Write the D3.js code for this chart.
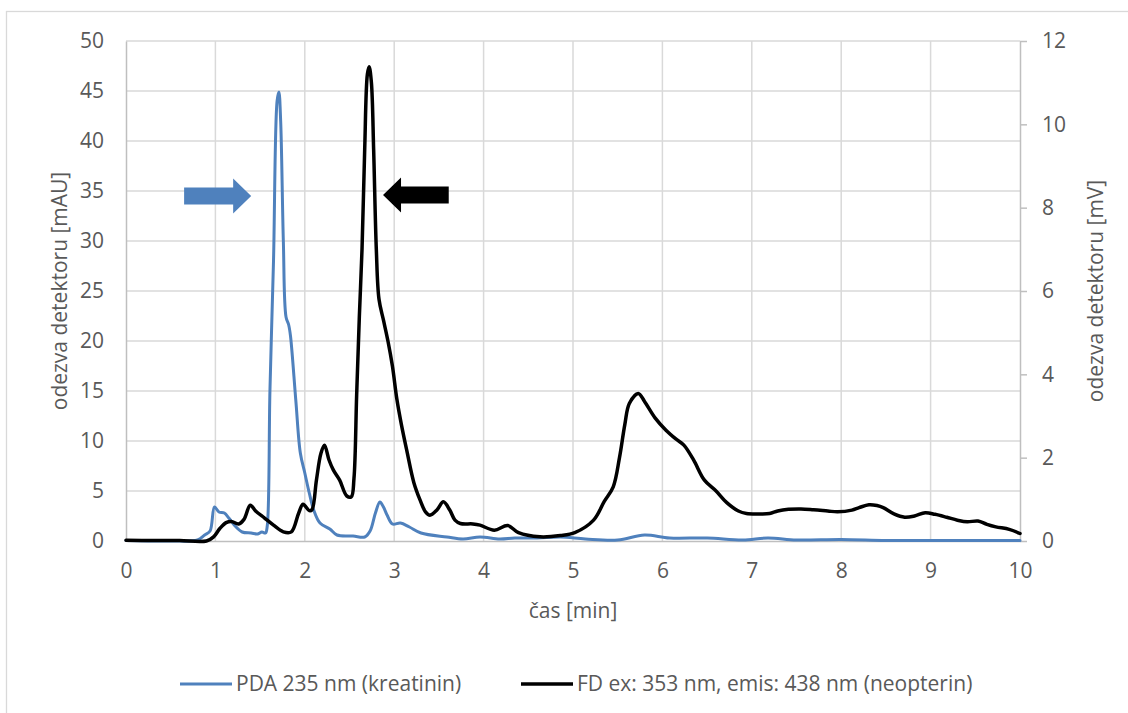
<!DOCTYPE html>
<html>
<head>
<meta charset="utf-8">
<script src="https://cdn.jsdelivr.net/npm/d3@7"></script>
<style>
  html, body { margin: 0; padding: 0; background: #fff; }
  svg { display: block; font-family: "Open Sans", "Lato", sans-serif; }
</style>
</head>
<body>
<svg id="chart" width="1128" height="713"></svg>
<script>
// Retention time axis [min]
const xTicks = [0, 1, 2, 3, 4, 5, 6, 7, 8, 9, 10];
const leftTicks = [0, 5, 10, 15, 20, 25, 30, 35, 40, 45, 50];
const rightTicks = [0, 2, 4, 6, 8, 10, 12];

// PDA 235 nm trace (kreatinin), response in mAU
const pdaTime = [0, 0.5, 0.8, 0.88, 0.94, 0.99, 1.04, 1.10, 1.15, 1.22, 1.30, 1.40, 1.47, 1.52, 1.56, 1.58,
  1.61, 1.65, 1.69, 1.71, 1.73, 1.76, 1.79, 1.82, 1.84, 1.90, 1.95, 2.00, 2.05, 2.10, 2.17, 2.28, 2.36,
  2.54, 2.67, 2.73, 2.79, 2.84, 2.88, 2.92, 2.98, 3.07, 3.17, 3.30, 3.59, 3.77, 3.96, 4.18, 4.35, 4.60,
  4.86, 5.14, 5.50, 5.80, 6.08, 6.50, 6.90, 7.18, 7.50, 8.00, 8.50, 9.00, 9.50, 10.0];
const pdaValue = [0.05, 0.0, 0.1, 0.6, 1.0, 3.4, 2.9, 2.8, 2.3, 1.5, 0.9, 0.8, 0.7, 0.9, 0.8, 1.5,
  15, 28, 44, 44.9, 42, 30, 22.4, 21.6, 20.5, 14, 8.8, 6.8, 4.8, 3.1, 1.8, 1.2, 0.6,
  0.5, 0.4, 1.0, 2.8, 3.9, 3.4, 2.6, 1.7, 1.8, 1.4, 0.8, 0.4, 0.2, 0.4, 0.2, 0.3, 0.3,
  0.4, 0.2, 0.1, 0.6, 0.3, 0.3, 0.1, 0.3, 0.1, 0.15, 0.05, 0.05, 0.05, 0.05];

// FD ex 353 nm / em 438 nm trace (neopterin), response in mV
const fdTime = [0, 0.3, 0.6, 0.9, 0.98, 1.05, 1.12, 1.18, 1.26, 1.32, 1.39, 1.45, 1.55, 1.65, 1.76, 1.85,
  1.93, 1.98, 2.05, 2.08, 2.13, 2.18, 2.22, 2.27, 2.32, 2.39, 2.47, 2.52, 2.55, 2.58, 2.61, 2.64, 2.67,
  2.70, 2.72, 2.745, 2.77, 2.80, 2.83, 2.88, 2.93, 2.98, 3.03, 3.08, 3.14, 3.22, 3.29, 3.35, 3.40, 3.48,
  3.55, 3.62, 3.68, 3.74, 3.88, 3.96, 4.12, 4.27, 4.39, 4.63, 4.86, 5.02, 5.23, 5.35, 5.45, 5.52, 5.58,
  5.63, 5.73, 5.80, 5.92, 6.04, 6.15, 6.24, 6.35, 6.47, 6.60, 6.72, 6.85, 6.94, 7.10, 7.20, 7.29, 7.41,
  7.55, 7.69, 7.85, 7.96, 8.12, 8.20, 8.31, 8.40, 8.47, 8.59, 8.71, 8.82, 8.94, 9.05, 9.18, 9.30, 9.41,
  9.53, 9.63, 9.73, 9.88, 10.0];
const fdValue = [0.02, 0.01, 0.01, 0.0, 0.1, 0.3, 0.44, 0.47, 0.41, 0.52, 0.86, 0.72, 0.55, 0.38, 0.22, 0.22,
  0.66, 0.88, 0.73, 0.75, 1.46, 2.1, 2.3, 1.95, 1.70, 1.46, 1.08, 1.06, 1.5, 3.5, 5.38, 7.0, 9.4,
  11.2, 11.38, 11.0, 9.4, 7.0, 5.8, 5.3, 4.8, 4.2, 3.4, 2.8, 2.18, 1.4, 0.98, 0.7, 0.62, 0.75,
  0.94, 0.75, 0.5, 0.42, 0.41, 0.38, 0.26, 0.37, 0.2, 0.1, 0.13, 0.2, 0.5, 0.95, 1.3, 2.0, 2.8,
  3.3, 3.54, 3.35, 2.95, 2.66, 2.45, 2.3, 1.94, 1.46, 1.2, 0.92, 0.72, 0.66, 0.65, 0.66, 0.72, 0.76,
  0.77, 0.75, 0.72, 0.70, 0.74, 0.8, 0.87, 0.85, 0.8, 0.65, 0.57, 0.6, 0.68, 0.64, 0.57, 0.5, 0.46,
  0.48, 0.4, 0.34, 0.28, 0.18];

// Peak markers: tail and tip time, height on the mAU axis
const arrowTail = [0.65, 3.61];
const arrowTip = [1.40, 2.875];
const arrowLevel = [34.5, 34.6];
const arrowColor = ["#4f81bd", "#000000"];

const legendLabels = ["PDA 235 nm (kreatinin)", "FD ex: 353 nm, emis: 438 nm (neopterin)"];

const W = 1128, H = 713;
const plot = { left: 126, right: 1020, top: 41, bottom: 541 };
const textColor = "#595959";
const gridColor = "#d9d9d9";
const axisColor = "#bfbfbf";
const fontSize = 21;
const fontFamily = "'Open Sans', Lato, sans-serif";

const svg = d3.select("#chart");

// chart frame
svg.append("rect").attr("x", 0).attr("y", 0).attr("width", W).attr("height", H).attr("fill", "#fff");
svg.append("rect").attr("x", 6.5).attr("y", 11.5).attr("width", W + 20).attr("height", H + 20)
  .attr("fill", "none").attr("stroke", gridColor).attr("stroke-width", 1.3);

const x = d3.scaleLinear().domain([0, 10]).range([plot.left, plot.right]);
const yL = d3.scaleLinear().domain([0, 50]).range([plot.bottom, plot.top]);
const yR = d3.scaleLinear().domain([0, 12]).range([plot.bottom, plot.top]);

// gridlines
const grid = svg.append("g");
grid.selectAll("line.v").data(xTicks.filter(d => d > 0 && d < 10)).join("line")
  .attr("x1", d => x(d)).attr("x2", d => x(d))
  .attr("y1", plot.top).attr("y2", plot.bottom)
  .attr("stroke", gridColor).attr("stroke-width", 1.5);
grid.selectAll("line.h").data(leftTicks.filter(d => d > 0)).join("line")
  .attr("x1", plot.left).attr("x2", plot.right)
  .attr("y1", d => yL(d)).attr("y2", d => yL(d))
  .attr("stroke", gridColor).attr("stroke-width", 1.5);

// axes
function styleAxis(g) {
  g.select(".domain").attr("stroke", axisColor).attr("stroke-width", 1.5);
  g.selectAll(".tick line").attr("stroke", axisColor).attr("stroke-width", 1.5);
  g.selectAll(".tick text").attr("fill", textColor).attr("font-size", fontSize)
    .attr("font-family", fontFamily);
}

const xAxis = svg.append("g").attr("transform", `translate(0,${plot.bottom})`)
  .call(d3.axisBottom(x).tickValues(xTicks).tickFormat(d3.format("d")).tickSize(0).tickPadding(22));
styleAxis(xAxis);

const leftAxis = svg.append("g").attr("transform", `translate(${plot.left},0)`)
  .call(d3.axisLeft(yL).tickValues(leftTicks).tickFormat(d3.format("d")).tickSize(0).tickPadding(22));
styleAxis(leftAxis);

const rightAxis = svg.append("g").attr("transform", `translate(${plot.right},0)`)
  .call(d3.axisRight(yR).tickValues(rightTicks).tickFormat(d3.format("d")).tickSizeInner(7).tickSizeOuter(0).tickPadding(15));
styleAxis(rightAxis);

// traces
const smooth = d3.curveCatmullRom.alpha(0.5);
const pdaLine = d3.line().x((d, i) => x(pdaTime[i])).y(d => yL(d)).curve(smooth);
const fdLine = d3.line().x((d, i) => x(fdTime[i])).y(d => yR(d)).curve(smooth);

svg.append("path").datum(pdaValue).attr("d", pdaLine)
  .attr("fill", "none").attr("stroke", "#4f81bd").attr("stroke-width", 3)
  .attr("stroke-linejoin", "round").attr("stroke-linecap", "round");
svg.append("path").datum(fdValue).attr("d", fdLine)
  .attr("fill", "none").attr("stroke", "#000").attr("stroke-width", 3.5)
  .attr("stroke-linejoin", "round").attr("stroke-linecap", "round");

// block arrows pointing at the two analyte peaks
const bodyHalf = 8.5, headHalf = 17.5, headLen = 18;
arrowTail.forEach((t0, i) => {
  const xa = x(t0), xb = x(arrowTip[i]), yc = yL(arrowLevel[i]);
  const dir = xb > xa ? 1 : -1;
  const xh = xb - dir * headLen;
  const pts = [[xa, yc - bodyHalf], [xh, yc - bodyHalf], [xh, yc - headHalf], [xb, yc],
    [xh, yc + headHalf], [xh, yc + bodyHalf], [xa, yc + bodyHalf]];
  svg.append("polygon").attr("points", pts.map(p => p.join(",")).join(" "))
    .attr("fill", arrowColor[i]);
});

// axis titles
svg.append("text").attr("x", (plot.left + plot.right) / 2).attr("y", 618)
  .attr("text-anchor", "middle").attr("fill", textColor).attr("font-size", fontSize)
  .attr("font-family", fontFamily).text("čas [min]");
svg.append("text").attr("transform", `translate(67,${(plot.top + plot.bottom) / 2}) rotate(-90)`)
  .attr("text-anchor", "middle").attr("fill", textColor).attr("font-size", fontSize)
  .attr("font-family", fontFamily).text("odezva detektoru [mAU]");
svg.append("text").attr("transform", `translate(1103,${(plot.top + plot.bottom) / 2}) rotate(-90)`)
  .attr("text-anchor", "middle").attr("fill", textColor).attr("font-size", fontSize)
  .attr("font-family", fontFamily).text("odezva detektoru [mV]");

// legend
const legendX = [180, 521];
const legendY = 684;
legendLabels.forEach((label, i) => {
  svg.append("line").attr("x1", legendX[i]).attr("x2", legendX[i] + 52)
    .attr("y1", legendY).attr("y2", legendY)
    .attr("stroke", arrowColor[i]).attr("stroke-width", i === 0 ? 3 : 3.5);
  svg.append("text").attr("x", legendX[i] + 56).attr("y", legendY).attr("dy", "0.35em")
    .attr("fill", textColor).attr("font-size", fontSize).attr("font-family", fontFamily).text(label);
});
</script>
</body>
</html>
